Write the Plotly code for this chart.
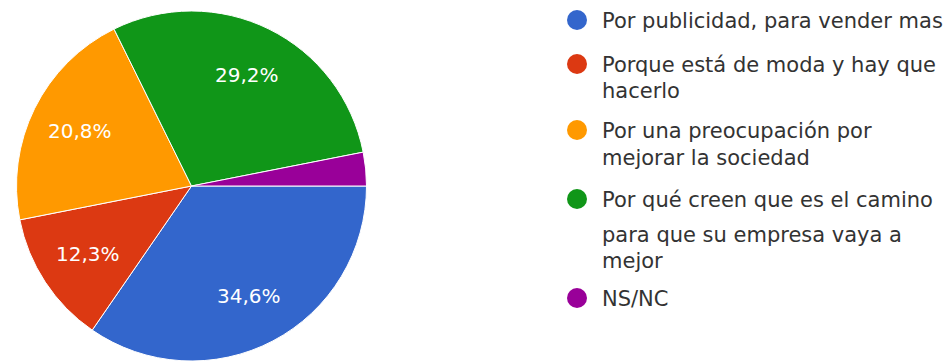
import math
import plotly.graph_objects as go

# Survey answers and their share of responses (%)
labels = [
    "Por publicidad, para vender mas",
    "Porque está de moda y hay que<br>hacerlo",
    "Por una preocupación por<br>mejorar la sociedad",
    "Por qué creen que es el camino<br>para que su empresa vaya a<br>mejor",
    "NS/NC",
]
values = [34.6, 12.3, 20.8, 29.2, 3.1]
colors = ["#3366cc", "#dc3912", "#ff9900", "#109618", "#990099"]

W, H = 951, 362
FONT = "DejaVu Sans"
LABEL_MIN = 5.0  # slices smaller than this get no percentage text

# Pie geometry in pixels
CX, CY, R = 191.5, 186.0, 175.0
LABEL_R = 0.71 * R

fig = go.Figure(
    go.Pie(
        labels=[l.replace("<br>", " ") for l in labels],
        values=values,
        textinfo="none",
        sort=False,
        direction="clockwise",
        rotation=90,
        marker=dict(colors=colors, line=dict(color="white", width=1)),
        domain=dict(x=[(CX - R) / W, (CX + R) / W], y=[1 - (CY + R) / H, 1 - (CY - R) / H]),
        showlegend=False,
        hoverinfo="label+percent",
    )
)

annotations = []

# Percentage labels, placed on each slice's mid-angle (clockwise from 3 o'clock)
total = sum(values)
cum = 0.0
for v in values:
    mid = (cum + v / 2) / total * 2 * math.pi
    cum += v
    if v < LABEL_MIN:
        continue
    px = CX + LABEL_R * math.cos(mid)
    py = CY + LABEL_R * math.sin(mid)
    annotations.append(
        dict(
            text=f"{v / total * 100:.1f}%".replace(".", ","),
            xref="paper",
            yref="paper",
            x=px / W,
            y=1 - py / H,
            xanchor="center",
            yanchor="middle",
            showarrow=False,
            font=dict(family=FONT, size=20, color="white"),
        )
    )

# Custom legend: round swatches with wrapped labels
entry_baselines = [[28], [72, 98], [138, 165], [207, 242, 268], [306]]
swatch_x = 577
text_x = 600
swatch_r = 10
shapes = []
for lab, col, bases in zip(labels, colors, entry_baselines):
    lines = lab.split("<br>")
    cy = bases[0] - 8
    shapes.append(
        dict(
            type="circle",
            xref="paper",
            yref="paper",
            x0=(swatch_x - swatch_r) / W,
            x1=(swatch_x + swatch_r) / W,
            y0=1 - (cy + swatch_r) / H,
            y1=1 - (cy - swatch_r) / H,
            fillcolor=col,
            line=dict(width=0),
        )
    )
    for line, b in zip(lines, bases):
        annotations.append(
            dict(
                text=line,
                xref="paper",
                yref="paper",
                x=text_x / W,
                y=1 - (b - 7) / H,
                xanchor="left",
                yanchor="middle",
                showarrow=False,
                font=dict(family=FONT, size=21, color="#333333"),
            )
        )

fig.update_layout(
    width=W,
    height=H,
    margin=dict(l=0, r=0, t=0, b=0),
    paper_bgcolor="white",
    plot_bgcolor="white",
    shapes=shapes,
    annotations=annotations,
)

fig.write_html("out.html")
